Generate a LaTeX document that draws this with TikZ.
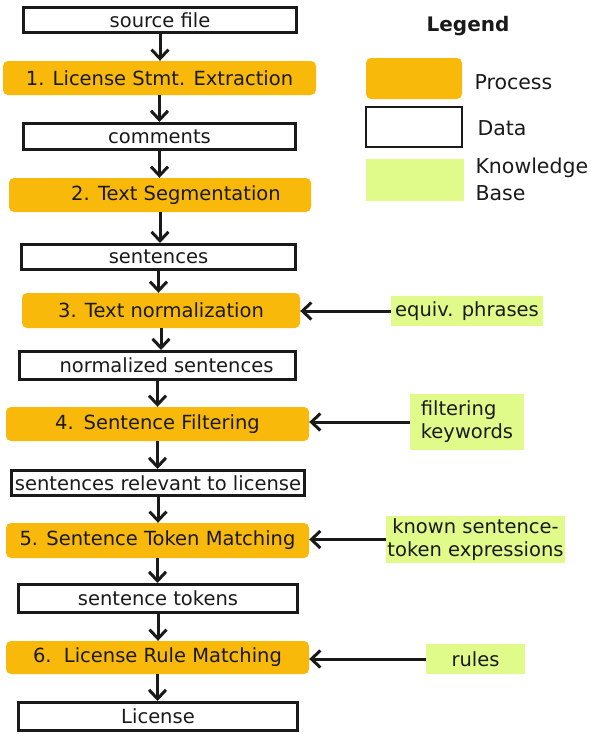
\documentclass[tikz,border=0pt]{standalone}
\usepackage{fontspec}
\setmainfont{DejaVu Sans}
\usepackage{xcolor}
\usepackage{tikz}
\usetikzlibrary{arrows.meta}
\definecolor{procorange}{RGB}{249,185,11}
\definecolor{kbgreen}{RGB}{225,251,139}
\definecolor{inkblack}{RGB}{26,26,26}

\begin{document}
\begin{tikzpicture}[x=1pt, y=-1pt,
  every node/.style={text=inkblack, font=\fontsize{19.5}{23}\selectfont},
  proc/.style={rectangle, rounded corners=5pt, fill=procorange, inner sep=0pt, minimum height=34pt},
  data/.style={rectangle, draw=inkblack, line width=3pt, fill=white, inner sep=0pt, minimum height=25pt},
  kb/.style={rectangle, fill=kbgreen, inner sep=0pt, align=left},
  flow/.style={->, line width=3pt, draw=inkblack},
  >={Straight Barb[length=9pt,width=17pt]}]
\useasboundingbox (0,0) rectangle (590,734);

% main chain
\node[data, minimum width=273pt] (src) at (160,20) {source file};
\node[proc, minimum width=313pt] (p1) at (159.5,78) {1. License Stmt. Extraction};
\node[data, minimum width=272pt, minimum height=26pt] (com) at (159.5,136.5) {comments};
\node[proc, minimum width=302pt] (p2) at (160,195) {\hspace*{32pt}2. Text Segmentation};
\node[data, minimum width=274pt] (sent) at (158.5,257) {sentences};
\node[proc, minimum width=278pt, minimum height=35pt] (p3) at (161,310.5) {3. Text normalization};
\node[data, minimum width=276pt, minimum height=28pt] (norm) at (157.5,365.5) {\hspace*{18pt}normalized sentences};
\node[proc, minimum width=303pt] (p4) at (157.5,424) {4.\hspace{10pt}Sentence Filtering};
\node[data, minimum width=293pt] (rel) at (158,483) {sentences relevant to license};
\node[proc, minimum width=303pt, minimum height=35pt] (p5) at (157.5,540.5) {5. Sentence Token Matching};
\node[data, minimum width=279pt, minimum height=28pt] (tok) at (158,598.5) {sentence tokens};
\node[proc, minimum width=303pt, minimum height=33pt] (p6) at (157.5,657.5) {6.\hspace{4pt} License Rule Matching};
\node[data, minimum width=279pt, minimum height=28pt] (lic) at (158,716.5) {License};

% knowledge bases
\node[kb, minimum width=152pt, minimum height=30pt] (equiv) at (467,311) {equiv. phrases};
\node[kb, minimum width=114pt, minimum height=56pt] (filt) at (467,422) {filtering\\keywords};
\node[kb, minimum width=179pt, minimum height=47pt, align=center] (known) at (475.5,539.5) {known sentence-\\token expressions};
\node[kb, minimum width=99pt, minimum height=30pt] (rules) at (475.5,659) {rules};

\foreach \a/\b in {src/p1, p1/com, com/p2, p2/sent, sent/p3, p3/norm, norm/p4, p4/rel, rel/p5, p5/tok, tok/p6, p6/lic}
  \draw[flow] (\a.south) -- (\a.south |- \b.north);

\draw[flow] (equiv.west) -- (equiv.west -| p3.east);
\draw[flow] (filt.west) -- (filt.west -| p4.east);
\draw[flow] (known.west) -- (known.west -| p5.east);
\draw[flow] (rules.west) -- (rules.west -| p6.east);

% legend
\node[font=\fontsize{20}{24}\selectfont\bfseries] (legend) at (468,26) {Legend};
\node[proc, minimum width=96pt, minimum height=41pt] (lgproc) at (414,78.5) {};
\node[data, line width=2.5pt, minimum width=96pt, minimum height=40pt] (lgdata) at (414,127) {};
\node[kb, minimum width=98pt, minimum height=42pt] (lgkb) at (415,180) {};
\node[anchor=west, font=\fontsize{20.5}{27}\selectfont] (lgproctxt) at (471,82) {Process};
\node[anchor=west, font=\fontsize{20.5}{27}\selectfont] (lgdatatxt) at (474,128) {Data};
\node[anchor=west, align=left, font=\fontsize{20.5}{27}\selectfont] (lgkbtxt) at (472,179) {Knowledge\\Base};
\end{tikzpicture}
\end{document}
